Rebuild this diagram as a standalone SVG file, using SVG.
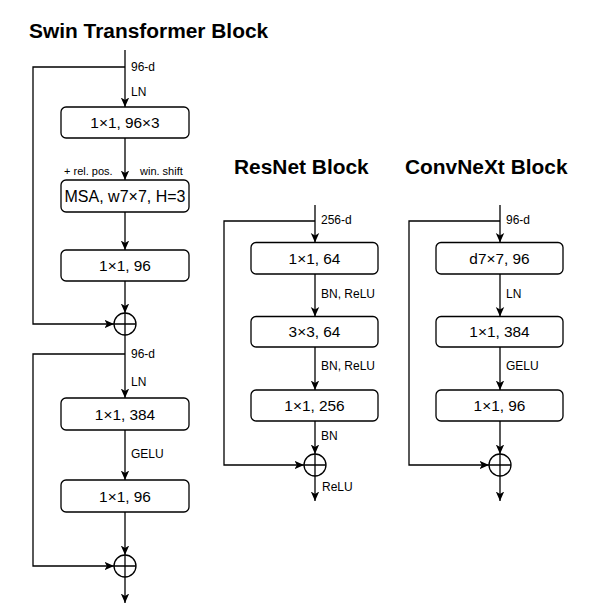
<svg xmlns="http://www.w3.org/2000/svg" width="589" height="610" viewBox="0 0 589 610">
<style>
.title{font-family:"Liberation Sans",Arial,sans-serif;font-weight:bold;font-size:20.9px;fill:#000}
.box{fill:#fff;stroke:#000;stroke-width:1.3}
.bt{font-family:"Liberation Sans",Arial,sans-serif;font-size:15.4px;fill:#000;text-anchor:middle}
.lbl{font-family:"Liberation Sans",Arial,sans-serif;font-size:12px;fill:#000}
.sm{font-family:"Liberation Sans",Arial,sans-serif;font-size:11px;fill:#000}
.ln{fill:none;stroke:#000;stroke-width:1.3}
.ar{fill:none;stroke:#000;stroke-width:1.3;marker-end:url(#ah)}
.add{fill:#fff;stroke:#000;stroke-width:1.3}
</style>
<defs>
<marker id="ah" markerUnits="userSpaceOnUse" markerWidth="11" markerHeight="11" refX="9.5" refY="5" orient="auto">
<path d="M0,0.8 L9.5,5 L0,9.2 L2.4,5 z" fill="#000"/>
</marker>
</defs>
<rect width="589" height="610" fill="#fff"/>

<text class="title" x="29" y="38">Swin Transformer Block</text>
<text class="title" x="234" y="174">ResNet Block</text>
<text class="title" x="405" y="174">ConvNeXt Block</text>

<g id="connectors">
<path class="ar" d="M125,50 V107"/>
<path class="ar" d="M125,67 H33 V324 H114"/>
<path class="ar" d="M125,138 V180"/>
<path class="ar" d="M125,212 V250"/>
<path class="ar" d="M125,281 V313"/>
<path class="ar" d="M125,335 V398"/>
<path class="ar" d="M125,354 H33 V566 H114"/>
<path class="ar" d="M125,430 V480"/>
<path class="ar" d="M125,512 V555"/>
<path class="ar" d="M125,577 V603"/>
<path class="ar" d="M315,205 V242.5"/>
<path class="ar" d="M315,221 H224 V465 H304"/>
<path class="ar" d="M315,274 V316.5"/>
<path class="ar" d="M315,347 V390"/>
<path class="ar" d="M315,421 V454"/>
<path class="ar" d="M315,476 V501"/>
<path class="ar" d="M500,205 V242.5"/>
<path class="ar" d="M500,221 H409 V465 H489"/>
<path class="ar" d="M500,274 V316.5"/>
<path class="ar" d="M500,347 V390"/>
<path class="ar" d="M500,421 V454"/>
<path class="ar" d="M500,476 V501"/>
</g>

<g id="labels">
<text class="lbl" x="131" y="71">96-d</text>
<text class="lbl" x="131" y="96">LN</text>
<text class="sm" x="64" y="175">+ rel. pos.</text>
<text class="sm" x="140" y="175">win. shift</text>
<text class="lbl" x="131" y="358">96-d</text>
<text class="lbl" x="131" y="386">LN</text>
<text class="lbl" x="131" y="457.5">GELU</text>
<text class="lbl" x="321" y="224">256-d</text>
<text class="lbl" x="321" y="298">BN, ReLU</text>
<text class="lbl" x="321" y="370">BN, ReLU</text>
<text class="lbl" x="321" y="440">BN</text>
<text class="lbl" x="322" y="491">ReLU</text>
<text class="lbl" x="506" y="224">96-d</text>
<text class="lbl" x="506" y="298">LN</text>
<text class="lbl" x="506" y="370">GELU</text>
</g>

<g id="swin-qkv"><rect class="box" x="61" y="107" width="128" height="31" rx="5"/><text class="bt" x="125" y="128">1×1, 96×3</text></g>
<g id="swin-msa"><rect class="box" x="61" y="180" width="128" height="32" rx="5"/><text class="bt" x="125" y="201.5" style="font-size:16px">MSA, w7×7, H=3</text></g>
<g id="swin-proj"><rect class="box" x="61" y="250" width="128" height="31" rx="5"/><text class="bt" x="125" y="271">1×1, 96</text></g>
<g id="swin-add1"><circle class="add" cx="125" cy="324" r="11"/><path class="ln" d="M125,313 V335 M114,324 H136"/></g>
<g id="swin-mlp1"><rect class="box" x="61" y="398" width="128" height="32" rx="5"/><text class="bt" x="125" y="419.5">1×1, 384</text></g>
<g id="swin-mlp2"><rect class="box" x="61" y="480" width="128" height="32" rx="5"/><text class="bt" x="125" y="501.5">1×1, 96</text></g>
<g id="swin-add2"><circle class="add" cx="125" cy="566" r="11"/><path class="ln" d="M125,555 V577 M114,566 H136"/></g>

<g id="res-1"><rect class="box" x="251" y="242.5" width="127" height="31.5" rx="5"/><text class="bt" x="314.5" y="263.5">1×1, 64</text></g>
<g id="res-2"><rect class="box" x="251" y="316.5" width="127" height="30.5" rx="5"/><text class="bt" x="314.5" y="337">3×3, 64</text></g>
<g id="res-3"><rect class="box" x="251" y="390" width="127" height="31" rx="5"/><text class="bt" x="314.5" y="411">1×1, 256</text></g>
<g id="res-add"><circle class="add" cx="315" cy="465" r="11"/><path class="ln" d="M315,454 V476 M304,465 H326"/></g>

<g id="cnx-1"><rect class="box" x="436" y="242.5" width="127" height="31.5" rx="5"/><text class="bt" x="499.5" y="263.5">d7×7, 96</text></g>
<g id="cnx-2"><rect class="box" x="436" y="316.5" width="127" height="30.5" rx="5"/><text class="bt" x="499.5" y="337">1×1, 384</text></g>
<g id="cnx-3"><rect class="box" x="436" y="390" width="127" height="31" rx="5"/><text class="bt" x="499.5" y="411">1×1, 96</text></g>
<g id="cnx-add"><circle class="add" cx="500" cy="465" r="11"/><path class="ln" d="M500,454 V476 M489,465 H511"/></g>
</svg>
